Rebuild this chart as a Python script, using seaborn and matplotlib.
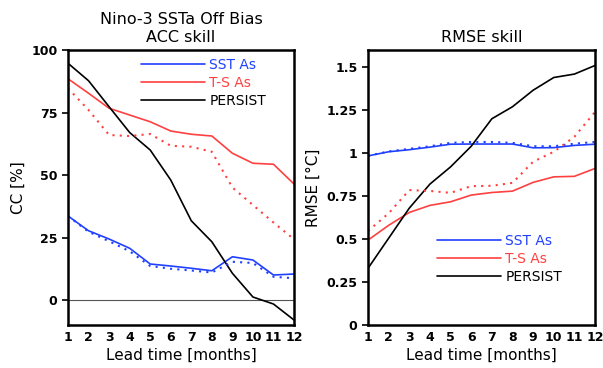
import numpy as np
import pandas as pd
import matplotlib
matplotlib.use("Agg")
import matplotlib.pyplot as plt
import seaborn as sns

# lead times
lead = list(range(1, 13))

# ACC skill [%]
acc_sst = [33.6, 27.7, 24.4, 20.7, 14.4, 13.6, 12.7, 11.7, 17.3, 16.0, 10.0, 10.4]
acc_sst_dot = [33.6, 27.3, 23.5, 19.5, 13.6, 12.5, 11.8, 11.0, 15.3, 14.8, 9.3, 8.7]
acc_ts = [88.5, 82.7, 76.7, 74.0, 71.3, 67.6, 66.3, 65.6, 58.7, 54.7, 54.3, 46.4]
acc_ts_dot = [84.7, 76.0, 66.0, 65.6, 66.4, 61.7, 61.3, 59.3, 45.0, 38.0, 31.0, 24.3]
acc_persist = [94.7, 87.7, 77.3, 67.0, 60.0, 48.0, 31.7, 23.3, 10.7, 1.2, -1.6, -8.0]

# RMSE skill [degC]
rmse_sst = [0.984, 1.008, 1.02, 1.035, 1.052, 1.053, 1.053, 1.053, 1.031, 1.032, 1.045, 1.052]
rmse_sst_dot = [0.984, 1.01, 1.025, 1.04, 1.06, 1.065, 1.065, 1.06, 1.04, 1.04, 1.055, 1.065]
rmse_ts = [0.494, 0.58, 0.655, 0.696, 0.717, 0.756, 0.771, 0.779, 0.83, 0.862, 0.865, 0.911]
rmse_ts_dot = [0.547, 0.65, 0.785, 0.78, 0.769, 0.808, 0.81, 0.827, 0.95, 1.008, 1.095, 1.24]
rmse_persist = [0.33, 0.505, 0.68, 0.82, 0.92, 1.04, 1.2, 1.27, 1.366, 1.44, 1.46, 1.51]

BLUE = "#2040ff"
RED = "#ff4040"
BLACK = "#000000"

sns.set_style("white", {"axes.edgecolor": "black", "text.color": "black",
                        "axes.labelcolor": "black", "xtick.color": "black",
                        "ytick.color": "black"})
plt.rcParams["font.family"] = ["DejaVu Sans"]

fig = plt.figure(figsize=(6.03, 3.68), dpi=100)
ax1 = fig.add_axes([0.1128, 0.1168, 0.3748, 0.7473])
ax2 = fig.add_axes([0.6103, 0.1168, 0.3765, 0.7473])


def draw(ax, sst, sst_dot, ts, ts_dot, persist):
    sns.lineplot(x=lead, y=sst, ax=ax, color=BLUE, lw=1.2, label="SST As")
    sns.lineplot(x=lead, y=ts, ax=ax, color=RED, lw=1.2, label="T-S As")
    sns.lineplot(x=lead, y=persist, ax=ax, color=BLACK, lw=1.2, label="PERSIST")
    sns.lineplot(x=lead, y=sst_dot, ax=ax, color=BLUE, lw=1.5, ls=(0, (1, 2.5)))
    sns.lineplot(x=lead, y=ts_dot, ax=ax, color=RED, lw=1.5, ls=(0, (1, 2.5)))
    ax.set_xlim(1, 12)
    ax.set_xticks(lead)
    ax.set_xlabel("Lead time [months]", fontsize=11, labelpad=3)
    for s in ax.spines.values():
        s.set_linewidth(1.8)
        s.set_color("black")
    ax.tick_params(axis="x", length=0, pad=4, labelsize=9)
    ax.tick_params(axis="y", direction="out", length=4, width=1.2, left=True, labelsize=9)
    for lab in ax.get_xticklabels() + ax.get_yticklabels():
        lab.set_fontweight("bold")


draw(ax1, acc_sst, acc_sst_dot, acc_ts, acc_ts_dot, acc_persist)
ax1.axhline(0, color="#555555", lw=0.8, zorder=0)
ax1.set_ylim(-10, 100)
ax1.set_yticks([0, 25, 50, 75, 100])
ax1.set_yticklabels(["0", "25", "50", "75", "100"], fontweight="bold")
ax1.set_ylabel("CC [%]", fontsize=11)
ax1.set_title("Nino-3 SSTa Off Bias\nACC skill", fontsize=11.5, pad=6, linespacing=1.25)
leg1 = ax1.legend(loc="upper left", bbox_to_anchor=(0.30, 0.99), frameon=False,
                  handlelength=4.6, handletextpad=0.3, labelspacing=0.28,
                  fontsize=10, labelcolor="linecolor", borderaxespad=0)

draw(ax2, rmse_sst, rmse_sst_dot, rmse_ts, rmse_ts_dot, rmse_persist)
ax2.set_ylim(0, 1.6)
ax2.set_yticks([0, 0.25, 0.5, 0.75, 1, 1.25, 1.5])
ax2.set_yticklabels(["0", "0.25", "0.5", "0.75", "1", "1.25", "1.5"], fontweight="bold")
ax2.set_ylabel("RMSE [°C]", fontsize=11)
ax2.set_title("RMSE skill", fontsize=11.5, pad=6)
leg2 = ax2.legend(loc="upper left", bbox_to_anchor=(0.28, 0.35), frameon=False,
                  handlelength=4.6, handletextpad=0.3, labelspacing=0.28,
                  fontsize=10, labelcolor="linecolor", borderaxespad=0)

fig.savefig("out.png", dpi=100)
